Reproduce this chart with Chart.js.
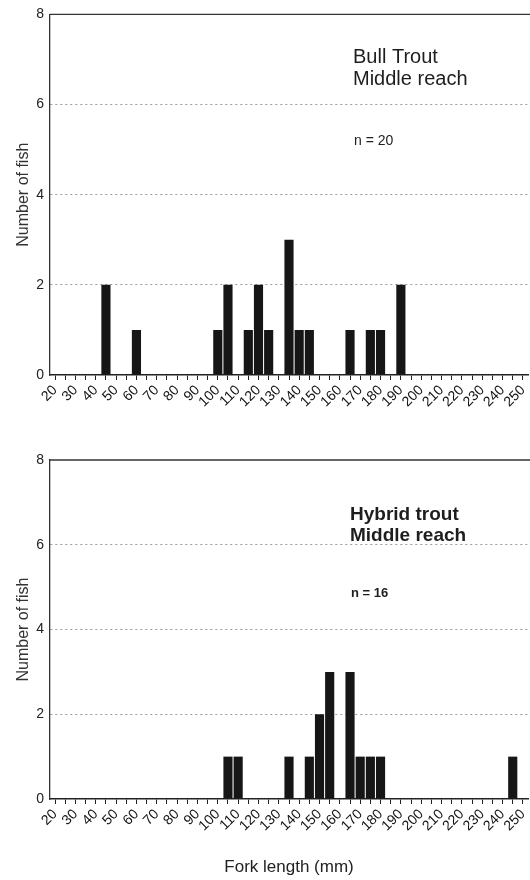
<!DOCTYPE html>
<html>
<head>
<meta charset="utf-8">
<script src="https://cdn.jsdelivr.net/npm/chart.js@4.4.1/dist/chart.umd.min.js"></script>
<style>
  html, body { margin: 0; padding: 0; background: #fff; }
  #wrap { position: relative; width: 530px; height: 880px; overflow: hidden; }
  canvas { position: absolute; left: 0; }
  #top-chart { top: 0; }
  #bottom-chart { top: 440px; }
</style>
</head>
<body>
<div id="wrap">
  <canvas id="top-chart" width="530" height="440"></canvas>
  <canvas id="bottom-chart" width="530" height="440"></canvas>
</div>
<script>
// fork length bins (mm), 5 mm wide
var lengthBins = ['20', '25', '30', '35', '40', '45', '50', '55', '60', '65',
  '70', '75', '80', '85', '90', '95', '100', '105', '110', '115',
  '120', '125', '130', '135', '140', '145', '150', '155', '160', '165',
  '170', '175', '180', '185', '190', '195', '200', '205', '210', '215',
  '220', '225', '230', '235', '240', '245', '250'];

// number of fish per bin
var bullTroutCounts = [0, 0, 0, 0, 0, 2, 0, 0, 1, 0,
  0, 0, 0, 0, 0, 0, 1, 2, 0, 1,
  2, 1, 0, 3, 1, 1, 0, 0, 0, 1,
  0, 1, 1, 0, 2, 0, 0, 0, 0, 0,
  0, 0, 0, 0, 0, 0, 0];

var hybridTroutCounts = [0, 0, 0, 0, 0, 0, 0, 0, 0, 0,
  0, 0, 0, 0, 0, 0, 0, 1, 1, 0,
  0, 0, 0, 1, 0, 1, 2, 3, 0, 3,
  1, 1, 1, 0, 0, 0, 0, 0, 0, 0,
  0, 0, 0, 0, 0, 1, 0];

var yTicks = [0, 2, 4, 6, 8];

var fontFamily = "'Liberation Sans', Arial, sans-serif";

var framePlugin = {
    id: 'frame',
    afterDraw: function (chart) {
        var a = chart.chartArea;
        var ctx = chart.ctx;
        ctx.save();
        ctx.strokeStyle = '#333';
        ctx.lineWidth = 1.3;
        ctx.beginPath();
        ctx.moveTo(a.left, a.top);
        ctx.lineTo(chart.width, a.top);
        ctx.stroke();
        ctx.restore();
    }
};

var makeNotes = function (lines) {
    return {
        id: 'notes',
        afterDraw: function (chart) {
            var ctx = chart.ctx;
            ctx.save();
            ctx.fillStyle = '#1e1e1e';
            ctx.textBaseline = 'alphabetic';
            lines.forEach(function (l) {
                ctx.font = l.font;
                ctx.fillText(l.text, l.x, l.y);
            });
            ctx.restore();
        }
    };
};

var makeConfig = function (counts, showTitle, axisHeight, topPad) {
    return {
        type: 'bar',
        data: {
            labels: lengthBins,
            datasets: [{
                data: counts,
                backgroundColor: '#161616',
                borderWidth: 0,
                barPercentage: 0.9,
                categoryPercentage: 1.0
            }]
        },
        options: {
            responsive: false,
            animation: false,
            layout: { padding: { left: 14, right: 2, top: topPad, bottom: 0 } },
            plugins: {
                legend: { display: false },
                tooltip: { enabled: false }
            },
            scales: {
                x: {
                    offset: true,
                    grid: {
                        offset: false,
                        drawOnChartArea: false,
                        drawTicks: true,
                        tickLength: 5,
                        color: '#222',
                        lineWidth: 1
                    },
                    border: { display: true, color: '#222', width: 1.5 },
                    ticks: {
                        autoSkip: false,
                        maxRotation: 45,
                        minRotation: 45,
                        padding: 2,
                        color: '#111',
                        font: { family: fontFamily, size: 14 },
                        callback: function (value) {
                            var lab = this.getLabelForValue(value);
                            return Number(lab) % 10 === 0 ? lab : '';
                        }
                    },
                    title: {
                        display: showTitle,
                        text: 'Fork length (mm)',
                        color: '#222',
                        font: { family: fontFamily, size: 17 },
                        padding: { top: 0, bottom: 2 }
                    },
                    afterFit: function (scale) {
                        scale.height = axisHeight;
                        scale.paddingRight = 0;
                    }
                },
                y: {
                    min: 0,
                    max: 8,
                    afterBuildTicks: function (scale) {
                        scale.ticks = yTicks.map(function (v) { return { value: v }; });
                    },
                    grid: {
                        drawTicks: false,
                        lineWidth: 1,
                        color: function (c) {
                            var v = c.tick && c.tick.value;
                            return (v > 0 && v < 8) ? '#9a9a9a' : 'rgba(0,0,0,0)';
                        }
                    },
                    border: { display: true, color: '#333', width: 1.3, dash: [2, 3] },
                    ticks: {
                        padding: 6,
                        color: '#222',
                        font: { family: fontFamily, size: 14 }
                    },
                    title: {
                        display: true,
                        text: 'Number of fish',
                        color: '#333',
                        font: { family: fontFamily, size: 16 },
                        padding: { top: 0, bottom: 2 }
                    },
                    afterFit: function (scale) {
                        scale.width = 36;
                    }
                }
            }
        }
    };
};

window.onload = function () {
    var topNotes = makeNotes([
        { text: 'Bull Trout', x: 353, y: 63, font: '20px ' + fontFamily },
        { text: 'Middle reach', x: 353, y: 85, font: '20px ' + fontFamily },
        { text: 'n = 20', x: 354, y: 145, font: '14px ' + fontFamily }
    ]);
    var bottomNotes = makeNotes([
        { text: 'Hybrid trout', x: 350, y: 80, font: 'bold 19px ' + fontFamily },
        { text: 'Middle reach', x: 350, y: 101, font: 'bold 19px ' + fontFamily },
        { text: 'n = 16', x: 351, y: 157, font: 'bold 13px ' + fontFamily }
    ]);

    var cfgTop = makeConfig(bullTroutCounts, false, 65, 10);
    cfgTop.plugins = [framePlugin, topNotes];
    new Chart(document.getElementById('top-chart').getContext('2d'), cfgTop);

    var cfgBottom = makeConfig(hybridTroutCounts, true, 81, 20);
    cfgBottom.plugins = [framePlugin, bottomNotes];
    new Chart(document.getElementById('bottom-chart').getContext('2d'), cfgBottom);
};
</script>
</body>
</html>
